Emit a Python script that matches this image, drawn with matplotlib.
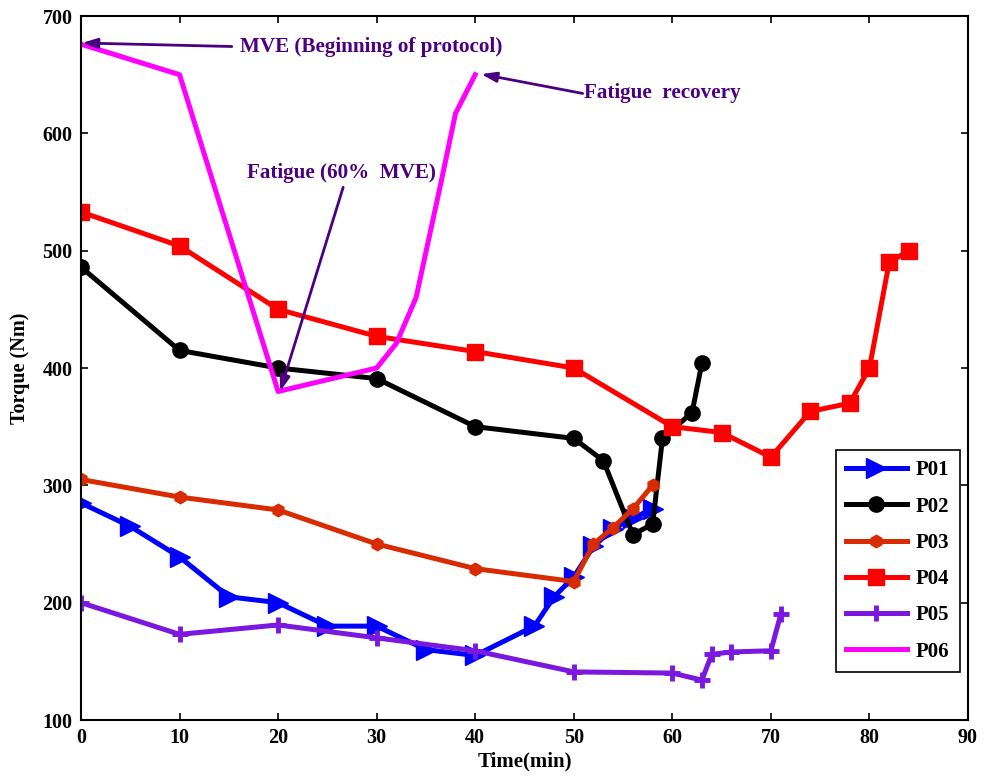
import matplotlib
matplotlib.use("Agg")
import matplotlib.pyplot as plt

# Torque measurements per participant (time in min, torque in Nm)
p01_t = [0, 5, 10, 15, 20, 25, 30, 35, 40, 46, 48, 50, 52, 54, 56, 58]
p01_q = [285, 265, 239, 205, 200, 180, 180, 160, 155, 180, 205, 222, 248, 263, 272, 280]

p02_t = [0, 10, 20, 30, 40, 50, 53, 56, 58, 59, 62, 63]
p02_q = [486, 415, 400, 391, 350, 340, 321, 258, 267, 340, 362, 404]

p03_t = [0, 10, 20, 30, 40, 50, 52, 54, 56, 58]
p03_q = [305, 290, 279, 250, 229, 218, 250, 264, 280, 300]

p04_t = [0, 10, 20, 30, 40, 50, 60, 65, 70, 74, 78, 80, 82, 84]
p04_q = [533, 504, 450, 427, 414, 400, 350, 345, 324, 363, 370, 400, 490, 500]

p05_t = [0, 10, 20, 30, 40, 50, 60, 63, 64, 66, 70, 71]
p05_q = [200, 173, 181, 170, 159, 141, 140, 134, 156, 158, 159, 190]

p06_t = [0, 10, 20, 30, 32, 34, 36.5, 38, 40]
p06_q = [676, 650, 380, 400, 421, 460, 557, 617, 650]

labels = ["P01", "P02", "P03", "P04", "P05", "P06"]
x_ticks = [0, 10, 20, 30, 40, 50, 60, 70, 80, 90]
y_ticks = [100, 200, 300, 400, 500, 600, 700]

plt.rcParams["font.family"] = ["Liberation Serif", "DejaVu Serif"]
plt.rcParams["font.weight"] = "bold"

fig = plt.figure(figsize=(9.87, 7.78), dpi=100)
ax = fig.add_axes([81 / 987, 1 - 720 / 778, 887 / 987, 704 / 778])

lw = 3.6
ax.plot(p01_t, p01_q, color="#0000FF", lw=lw, marker=">", ms=14, label=labels[0])
ax.plot(p02_t, p02_q, color="black", lw=lw, marker="o", ms=11, label=labels[1])
ax.plot(p03_t, p03_q, color="#D92B00", lw=lw, marker="h", ms=9, label=labels[2])
ax.plot(p04_t, p04_q, color="#FF0000", lw=lw, marker="s", ms=12, label=labels[3])
ax.plot(p05_t, p05_q, color="#7A18E0", lw=lw, marker="+", ms=11, mew=3.5, label=labels[4])
ax.plot(p06_t, p06_q, color="#FF00FF", lw=lw, label=labels[5])

ax.set_xlim(0, 90)
ax.set_ylim(100, 700)
ax.set_xticks(x_ticks)
ax.set_yticks(y_ticks)
ax.tick_params(direction="in", length=5, width=1.2, top=True, right=True,
               labelsize=14.5, pad=6)
for s in ax.spines.values():
    s.set_linewidth(1.5)

ax.set_xlabel("Time(min)", fontsize=15, fontweight="bold", labelpad=2)
ax.set_ylabel("Torque (Nm)", fontsize=14.5, fontweight="bold", labelpad=9)

# annotations on the P06 curve
ann_color = "#4B0082"
fs_ann = 15.2
arrow = dict(arrowstyle="-|>,head_length=0.9,head_width=0.3", color=ann_color, lw=2,
             shrinkA=0, shrinkB=0)
ax.annotate("", xy=(0.1, 677), xytext=(15.3, 674), arrowprops=arrow)
ax.text(16.1, 674, "MVE (Beginning of protocol)", color=ann_color, fontsize=fs_ann,
        fontweight="bold", ha="left", va="center")
ax.annotate("", xy=(40.6, 650.5), xytext=(50.9, 634), arrowprops=arrow)
ax.text(51.0, 634, "Fatigue  recovery", color=ann_color, fontsize=fs_ann,
        fontweight="bold", ha="left", va="center")
ax.annotate("", xy=(20.2, 380), xytext=(26.6, 554), arrowprops=arrow)
ax.text(26.4, 566, "Fatigue (60%  MVE)", color=ann_color, fontsize=fs_ann,
        fontweight="bold", ha="center", va="center")

leg = ax.legend(loc="lower right", bbox_to_anchor=(960 / 987, 1 - 672 / 778),
                bbox_transform=fig.transFigure, borderaxespad=0, fontsize=15,
                handlelength=2.9, handletextpad=0.45, fancybox=False,
                edgecolor="black", framealpha=1, labelspacing=0.78, borderpad=0.5)
leg.get_frame().set_linewidth(1.2)

fig.savefig("out.png", dpi=100)
